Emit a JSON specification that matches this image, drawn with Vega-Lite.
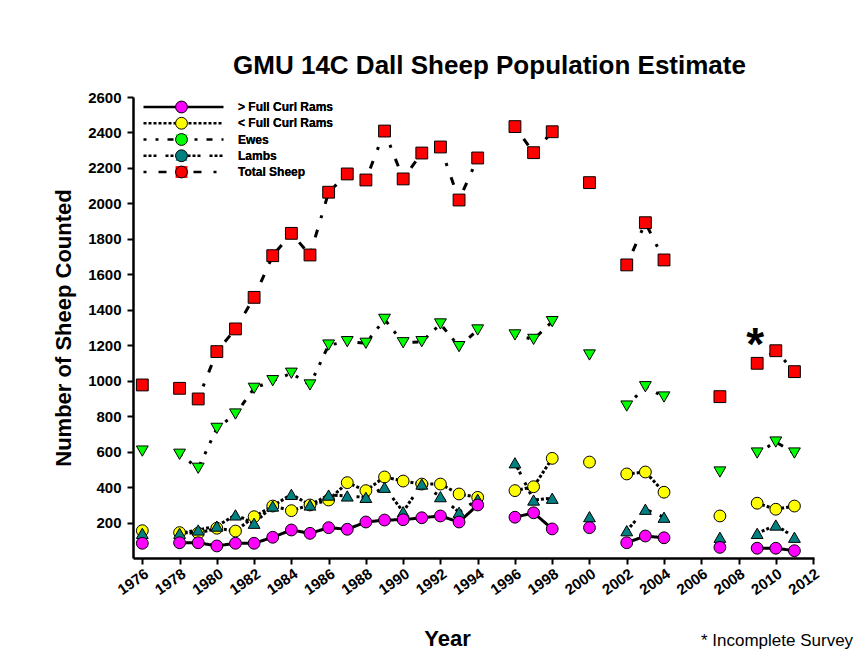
{
  "$schema": "https://vega.github.io/schema/vega-lite/v6.json",
  "autosize": "none",
  "width": 681,
  "height": 461,
  "padding": {"left": 133, "top": 97, "right": 51, "bottom": 108},
  "background": "white",
  "config": {
    "font": "Liberation Sans",
    "view": {"stroke": null},
    "axis": {
      "grid": false,
      "domainColor": "black",
      "domainWidth": 2.5,
      "tickColor": "black",
      "tickWidth": 2,
      "tickSize": 6,
      "labelColor": "black",
      "labelFont": "Liberation Sans",
      "labelFontSize": 15,
      "labelFontWeight": "bold",
      "titleColor": "black",
      "titleFont": "Liberation Sans",
      "titleFontSize": 22,
      "titleFontWeight": "bold",
      "labelOverlap": false,
      "labelFlush": false
    }
  },
  "title": {
    "text": "GMU 14C Dall Sheep Population Estimate",
    "fontSize": 26,
    "fontWeight": "bold",
    "color": "black",
    "anchor": "middle",
    "dx": 16,
    "offset": -10,
    "baseline": "alphabetic"
  },
  "datasets": {
    "notes": [
      {"year": 2008.9, "count": 1118, "note": "*"}
    ],
    "footnote": [
      {"year": 2014.15, "count": -499, "note": "* Incomplete Survey"}
    ]
  },
  "data": {
    "values": [
      {"year": 1976, "series": "Total Sheep", "count": 976, "run": "A"},
      {"year": 1978, "series": "Total Sheep", "count": 957, "run": "B"},
      {"year": 1979, "series": "Total Sheep", "count": 897, "run": "B"},
      {"year": 1980, "series": "Total Sheep", "count": 1164, "run": "B"},
      {"year": 1981, "series": "Total Sheep", "count": 1292, "run": "B"},
      {"year": 1982, "series": "Total Sheep", "count": 1470, "run": "B"},
      {"year": 1983, "series": "Total Sheep", "count": 1705, "run": "B"},
      {"year": 1984, "series": "Total Sheep", "count": 1831, "run": "B"},
      {"year": 1985, "series": "Total Sheep", "count": 1709, "run": "B"},
      {"year": 1986, "series": "Total Sheep", "count": 2063, "run": "B"},
      {"year": 1987, "series": "Total Sheep", "count": 2166, "run": "B"},
      {"year": 1988, "series": "Total Sheep", "count": 2132, "run": "B"},
      {"year": 1989, "series": "Total Sheep", "count": 2408, "run": "B"},
      {"year": 1990, "series": "Total Sheep", "count": 2138, "run": "B"},
      {"year": 1991, "series": "Total Sheep", "count": 2284, "run": "B"},
      {"year": 1992, "series": "Total Sheep", "count": 2318, "run": "B"},
      {"year": 1993, "series": "Total Sheep", "count": 2019, "run": "B"},
      {"year": 1994, "series": "Total Sheep", "count": 2256, "run": "B"},
      {"year": 1996, "series": "Total Sheep", "count": 2433, "run": "C"},
      {"year": 1997, "series": "Total Sheep", "count": 2286, "run": "C"},
      {"year": 1998, "series": "Total Sheep", "count": 2404, "run": "C"},
      {"year": 2000, "series": "Total Sheep", "count": 2117, "run": "D"},
      {"year": 2002, "series": "Total Sheep", "count": 1653, "run": "E"},
      {"year": 2003, "series": "Total Sheep", "count": 1891, "run": "E"},
      {"year": 2004, "series": "Total Sheep", "count": 1681, "run": "E"},
      {"year": 2007, "series": "Total Sheep", "count": 910, "run": "F"},
      {"year": 2009, "series": "Total Sheep", "count": 1098, "run": "G"},
      {"year": 2010, "series": "Total Sheep", "count": 1169, "run": "G"},
      {"year": 2011, "series": "Total Sheep", "count": 1051, "run": "G"},

      {"year": 1976, "series": "Ewes", "count": 603, "run": "A"},
      {"year": 1978, "series": "Ewes", "count": 585, "run": "B"},
      {"year": 1979, "series": "Ewes", "count": 506, "run": "B"},
      {"year": 1980, "series": "Ewes", "count": 731, "run": "B"},
      {"year": 1981, "series": "Ewes", "count": 812, "run": "B"},
      {"year": 1982, "series": "Ewes", "count": 957, "run": "B"},
      {"year": 1983, "series": "Ewes", "count": 1000, "run": "B"},
      {"year": 1984, "series": "Ewes", "count": 1042, "run": "B"},
      {"year": 1985, "series": "Ewes", "count": 976, "run": "B"},
      {"year": 1986, "series": "Ewes", "count": 1201, "run": "B"},
      {"year": 1987, "series": "Ewes", "count": 1220, "run": "B"},
      {"year": 1988, "series": "Ewes", "count": 1211, "run": "B"},
      {"year": 1989, "series": "Ewes", "count": 1346, "run": "B"},
      {"year": 1990, "series": "Ewes", "count": 1214, "run": "B"},
      {"year": 1991, "series": "Ewes", "count": 1220, "run": "B"},
      {"year": 1992, "series": "Ewes", "count": 1320, "run": "B"},
      {"year": 1993, "series": "Ewes", "count": 1192, "run": "B"},
      {"year": 1994, "series": "Ewes", "count": 1286, "run": "B"},
      {"year": 1996, "series": "Ewes", "count": 1258, "run": "C"},
      {"year": 1997, "series": "Ewes", "count": 1233, "run": "C"},
      {"year": 1998, "series": "Ewes", "count": 1333, "run": "C"},
      {"year": 2000, "series": "Ewes", "count": 1145, "run": "D"},
      {"year": 2002, "series": "Ewes", "count": 857, "run": "E"},
      {"year": 2003, "series": "Ewes", "count": 966, "run": "E"},
      {"year": 2004, "series": "Ewes", "count": 908, "run": "E"},
      {"year": 2007, "series": "Ewes", "count": 485, "run": "F"},
      {"year": 2009, "series": "Ewes", "count": 592, "run": "G"},
      {"year": 2010, "series": "Ewes", "count": 654, "run": "G"},
      {"year": 2011, "series": "Ewes", "count": 592, "run": "G"},

      {"year": 1976, "series": "< Full Curl Rams", "count": 154, "run": "A"},
      {"year": 1978, "series": "< Full Curl Rams", "count": 143, "run": "B"},
      {"year": 1979, "series": "< Full Curl Rams", "count": 140, "run": "B"},
      {"year": 1980, "series": "< Full Curl Rams", "count": 168, "run": "B"},
      {"year": 1981, "series": "< Full Curl Rams", "count": 152, "run": "B"},
      {"year": 1982, "series": "< Full Curl Rams", "count": 233, "run": "B"},
      {"year": 1983, "series": "< Full Curl Rams", "count": 293, "run": "B"},
      {"year": 1984, "series": "< Full Curl Rams", "count": 267, "run": "B"},
      {"year": 1985, "series": "< Full Curl Rams", "count": 299, "run": "B"},
      {"year": 1986, "series": "< Full Curl Rams", "count": 327, "run": "B"},
      {"year": 1987, "series": "< Full Curl Rams", "count": 425, "run": "B"},
      {"year": 1988, "series": "< Full Curl Rams", "count": 380, "run": "B"},
      {"year": 1989, "series": "< Full Curl Rams", "count": 457, "run": "B"},
      {"year": 1990, "series": "< Full Curl Rams", "count": 434, "run": "B"},
      {"year": 1991, "series": "< Full Curl Rams", "count": 417, "run": "B"},
      {"year": 1992, "series": "< Full Curl Rams", "count": 417, "run": "B"},
      {"year": 1993, "series": "< Full Curl Rams", "count": 361, "run": "B"},
      {"year": 1994, "series": "< Full Curl Rams", "count": 342, "run": "B"},
      {"year": 1996, "series": "< Full Curl Rams", "count": 380, "run": "C"},
      {"year": 1997, "series": "< Full Curl Rams", "count": 402, "run": "C"},
      {"year": 1998, "series": "< Full Curl Rams", "count": 562, "run": "C"},
      {"year": 2000, "series": "< Full Curl Rams", "count": 541, "run": "D"},
      {"year": 2002, "series": "< Full Curl Rams", "count": 474, "run": "E"},
      {"year": 2003, "series": "< Full Curl Rams", "count": 485, "run": "E"},
      {"year": 2004, "series": "< Full Curl Rams", "count": 371, "run": "E"},
      {"year": 2007, "series": "< Full Curl Rams", "count": 237, "run": "F"},
      {"year": 2009, "series": "< Full Curl Rams", "count": 309, "run": "G"},
      {"year": 2010, "series": "< Full Curl Rams", "count": 275, "run": "G"},
      {"year": 2011, "series": "< Full Curl Rams", "count": 293, "run": "G"},

      {"year": 1976, "series": "Lambs", "count": 139, "run": "A"},
      {"year": 1978, "series": "Lambs", "count": 139, "run": "B"},
      {"year": 1979, "series": "Lambs", "count": 158, "run": "B"},
      {"year": 1980, "series": "Lambs", "count": 180, "run": "B"},
      {"year": 1981, "series": "Lambs", "count": 243, "run": "B"},
      {"year": 1982, "series": "Lambs", "count": 196, "run": "B"},
      {"year": 1983, "series": "Lambs", "count": 293, "run": "B"},
      {"year": 1984, "series": "Lambs", "count": 359, "run": "B"},
      {"year": 1985, "series": "Lambs", "count": 299, "run": "B"},
      {"year": 1986, "series": "Lambs", "count": 355, "run": "B"},
      {"year": 1987, "series": "Lambs", "count": 350, "run": "B"},
      {"year": 1988, "series": "Lambs", "count": 342, "run": "B"},
      {"year": 1989, "series": "Lambs", "count": 399, "run": "B"},
      {"year": 1990, "series": "Lambs", "count": 261, "run": "B"},
      {"year": 1991, "series": "Lambs", "count": 417, "run": "B"},
      {"year": 1992, "series": "Lambs", "count": 346, "run": "B"},
      {"year": 1993, "series": "Lambs", "count": 258, "run": "B"},
      {"year": 1994, "series": "Lambs", "count": 331, "run": "B"},
      {"year": 1996, "series": "Lambs", "count": 537, "run": "C"},
      {"year": 1997, "series": "Lambs", "count": 327, "run": "C"},
      {"year": 1998, "series": "Lambs", "count": 337, "run": "C"},
      {"year": 2000, "series": "Lambs", "count": 233, "run": "D"},
      {"year": 2002, "series": "Lambs", "count": 154, "run": "E"},
      {"year": 2003, "series": "Lambs", "count": 275, "run": "E"},
      {"year": 2004, "series": "Lambs", "count": 230, "run": "E"},
      {"year": 2007, "series": "Lambs", "count": 117, "run": "F"},
      {"year": 2009, "series": "Lambs", "count": 139, "run": "G"},
      {"year": 2010, "series": "Lambs", "count": 186, "run": "G"},
      {"year": 2011, "series": "Lambs", "count": 117, "run": "G"},

      {"year": 1976, "series": "> Full Curl Rams", "count": 83, "run": "A"},
      {"year": 1978, "series": "> Full Curl Rams", "count": 86, "run": "B"},
      {"year": 1979, "series": "> Full Curl Rams", "count": 86, "run": "B"},
      {"year": 1980, "series": "> Full Curl Rams", "count": 68, "run": "B"},
      {"year": 1981, "series": "> Full Curl Rams", "count": 83, "run": "B"},
      {"year": 1982, "series": "> Full Curl Rams", "count": 83, "run": "B"},
      {"year": 1983, "series": "> Full Curl Rams", "count": 117, "run": "B"},
      {"year": 1984, "series": "> Full Curl Rams", "count": 158, "run": "B"},
      {"year": 1985, "series": "> Full Curl Rams", "count": 139, "run": "B"},
      {"year": 1986, "series": "> Full Curl Rams", "count": 171, "run": "B"},
      {"year": 1987, "series": "> Full Curl Rams", "count": 162, "run": "B"},
      {"year": 1988, "series": "> Full Curl Rams", "count": 203, "run": "B"},
      {"year": 1989, "series": "> Full Curl Rams", "count": 214, "run": "B"},
      {"year": 1990, "series": "> Full Curl Rams", "count": 216, "run": "B"},
      {"year": 1991, "series": "> Full Curl Rams", "count": 227, "run": "B"},
      {"year": 1992, "series": "> Full Curl Rams", "count": 237, "run": "B"},
      {"year": 1993, "series": "> Full Curl Rams", "count": 203, "run": "B"},
      {"year": 1994, "series": "> Full Curl Rams", "count": 299, "run": "B"},
      {"year": 1996, "series": "> Full Curl Rams", "count": 230, "run": "C"},
      {"year": 1997, "series": "> Full Curl Rams", "count": 255, "run": "C"},
      {"year": 1998, "series": "> Full Curl Rams", "count": 164, "run": "C"},
      {"year": 2000, "series": "> Full Curl Rams", "count": 171, "run": "D"},
      {"year": 2002, "series": "> Full Curl Rams", "count": 86, "run": "E"},
      {"year": 2003, "series": "> Full Curl Rams", "count": 124, "run": "E"},
      {"year": 2004, "series": "> Full Curl Rams", "count": 114, "run": "E"},
      {"year": 2007, "series": "> Full Curl Rams", "count": 60, "run": "F"},
      {"year": 2009, "series": "> Full Curl Rams", "count": 55, "run": "G"},
      {"year": 2010, "series": "> Full Curl Rams", "count": 55, "run": "G"},
      {"year": 2011, "series": "> Full Curl Rams", "count": 41, "run": "G"}
    ]
  },
  "encoding": {
    "x": {
      "field": "year",
      "type": "quantitative",
      "scale": {"domain": [1975.5, 2012.05], "nice": false, "zero": false},
      "axis": {
        "title": "Year",
        "titleX": 314,
        "titleY": 87,
        "titleAlign": "center",
        "titleBaseline": "alphabetic",
        "values": [1976, 1978, 1980, 1982, 1984, 1986, 1988, 1990, 1992, 1994, 1996, 1998, 2000, 2002, 2004, 2006, 2008, 2010, 2012],
        "format": "d",
        "labelAngle": -35,
        "labelFontSize": 15,
        "labelAlign": "right",
        "labelBaseline": "top",
        "labelPadding": 2
      }
    },
    "y": {
      "field": "count",
      "type": "quantitative",
      "scale": {"domain": [0, 2600], "nice": false, "zero": true},
      "axis": {
        "title": "Number of Sheep Counted",
        "titlePadding": 12,
        "values": [200, 400, 600, 800, 1000, 1200, 1400, 1600, 1800, 2000, 2200, 2400, 2600],
        "format": "d",
        "labelPadding": 6
      }
    }
  },
  "layer": [
    {
      "mark": {"type": "line", "color": "black", "strokeWidth": 3},
      "encoding": {
        "detail": {"field": "run"},
        "strokeDash": {
          "field": "series",
          "type": "nominal",
          "scale": {
            "domain": ["> Full Curl Rams", "< Full Curl Rams", "Ewes", "Lambs", "Total Sheep"],
            "range": [[1, 0], [3, 2], [3, 9, 3, 9, 6, 9], [3, 2, 3, 2, 3, 9], [3, 12, 8, 12]]
          },
          "legend": {
            "title": null,
            "orient": "top-left",
            "offset": 2,
            "padding": 0,
            "symbolType": "stroke",
            "symbolSize": 6400,
            "symbolOffset": 7,
            "symbolStrokeWidth": 2.5,
            "symbolStrokeColor": "black",
            "labelExpr": "''",
            "labelFontSize": 12,
            "clipHeight": 16,
            "rowPadding": 0.25,
            "zindex": 0
          }
        }
      }
    },
    {
      "mark": {"type": "point", "filled": true, "size": 140, "stroke": "black", "strokeWidth": 1, "opacity": 1},
      "encoding": {
        "shape": {
          "field": "series",
          "type": "nominal",
          "scale": {
            "domain": ["> Full Curl Rams", "< Full Curl Rams", "Ewes", "Lambs", "Total Sheep"],
            "range": ["circle", "circle", "triangle-down", "triangle-up", "square"]
          },
          "legend": {
            "title": null,
            "orient": "none",
            "legendX": 42,
            "legendY": 2,
            "padding": 0,
            "symbolSize": 140,
            "symbolStrokeColor": "black",
            "symbolStrokeWidth": 1,
            "symbolOpacity": 1,
            "labelFontSize": 12,
            "labelFontWeight": "bold",
            "labelColor": "black",
            "labelOffset": 50,
            "clipHeight": 16,
            "rowPadding": 0.25,
            "zindex": 2
          }
        },
        "fill": {
          "field": "series",
          "type": "nominal",
          "scale": {
            "domain": ["> Full Curl Rams", "< Full Curl Rams", "Ewes", "Lambs", "Total Sheep"],
            "range": ["#FF00FF", "#FFFF00", "#00FF00", "#008080", "#FF0000"]
          },
          "legend": {
            "title": null,
            "orient": "none",
            "legendX": 42,
            "legendY": 2,
            "padding": 0,
            "symbolSize": 140,
            "symbolStrokeColor": "black",
            "symbolStrokeWidth": 1,
            "symbolOpacity": 1,
            "labelFontSize": 12,
            "labelFontWeight": "bold",
            "labelColor": "black",
            "labelOffset": 50,
            "clipHeight": 16,
            "rowPadding": 0.25,
            "zindex": 2
          }
        }
      }
    },
    {
      "data": {"name": "notes"},
      "mark": {"type": "text", "fontSize": 46, "fontWeight": "bold", "fill": "black", "align": "center", "baseline": "alphabetic"},
      "encoding": {
        "text": {"field": "note", "type": "nominal"}
      }
    },
    {
      "data": {"name": "footnote"},
      "mark": {"type": "text", "fontSize": 17, "fill": "black", "align": "right", "baseline": "alphabetic"},
      "encoding": {
        "text": {"field": "note", "type": "nominal"}
      }
    }
  ]
}
